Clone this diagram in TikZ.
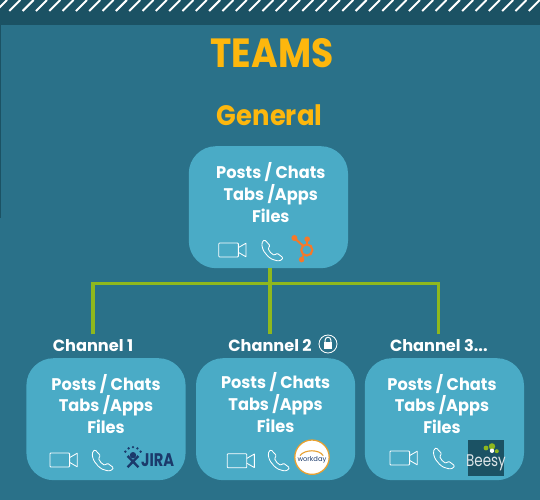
\documentclass[tikz,border=0pt]{standalone}
\usepackage{fontspec}
\setmainfont{Poppins}
\usetikzlibrary{arrows.meta,positioning,calc}
\definecolor{bandcol}{HTML}{1B5264}
\definecolor{bgcol}{HTML}{2A7189}
\definecolor{boxcol}{HTML}{4AABC6}
\definecolor{wirecol}{HTML}{8FB81E}
\definecolor{titlecol}{HTML}{FDB70D}
\definecolor{hubcol}{HTML}{F5792A}
\definecolor{jiracol}{HTML}{1B3A6B}
\definecolor{daycol}{HTML}{E8A030}
\tikzset{
    teambox/.style={fill=boxcol, rounded corners=0.68cm, minimum width=3.98cm, minimum height=3.05cm, inner sep=0pt},
    teamtxt/.style={align=center, text=white, font=\fontsize{12}{15.6}\selectfont\bfseries, inner sep=0pt, xscale=0.96},
    chlbl/.style={anchor=base, text=white, font=\fontsize{11.5}{14}\selectfont\bfseries, inner sep=0pt, text height=0.425cm},
    wire/.style={draw=wirecol, line width=2.2pt},
    icon/.style={draw=white, line width=0.6pt, line join=round},
    pics/camicon/.style={code={
        \draw[icon, rounded corners=0.6pt] (0,-0.175) rectangle (0.49,0.175);
        \draw[icon] (0.49,-0.06) -- (0.68,-0.17) -- (0.68,0.17) -- (0.49,0.06);
    }},
    pics/phoneicon/.style={code={
        \draw[icon, rounded corners=0.8pt, x=0.025cm, y=-0.025cm] (3,0.5) .. controls (1,2) and (0,4) .. (0.5,7)
            .. controls (2,14) and (9,21) .. (16,21.5) .. controls (18,21.7) and (20,21) .. (21.5,18.5)
            -- (15.5,14) -- (13,16) .. controls (10,15) and (7.5,12) .. (6.5,9) -- (8.5,6.5) -- cycle;
    }}
}
\begin{document}
\begin{tikzpicture}
\useasboundingbox (0,0) rectangle (13.5,-12.5);
% background and top band
\fill[bgcol] (0,0) rectangle (13.5,-12.5);
\fill[bandcol] (0,0) rectangle (13.5,-0.625);
\fill[bandcol] (0,-0.625) rectangle (0.03,-5.45);
\foreach \i in {0,...,41}
    \draw[white, line width=1.4pt] ({\i*0.333-0.1},-0.275) -- ({\i*0.333+0.175},0);

\node[text=titlecol, font=\fontsize{29}{30}\selectfont\bfseries, inner sep=0pt, xscale=0.885] (title) at (6.8,-1.32) {TEAMS};
\node[text=titlecol, font=\fontsize{20}{22}\selectfont\bfseries, inner sep=0pt, xscale=0.92] (general) at (6.74,-2.88) {General};

% boxes
\node[teambox] (mainbox) at (6.71,-5.18) {};
\node[teambox] (chonebox) at (2.65,-10.48) {};
\node[teambox] (chtwobox) at (6.89,-10.48) {};
\node[teambox] (chthreebox) at (11.11,-10.48) {};

\node[teamtxt] (maintxt) at (6.77,-4.82) {Posts / Chats\\Tabs /Apps\\Files};
\node[teamtxt] (chonetxt) at (2.65,-10.1) {Posts / Chats\\Tabs /Apps\\Files};
\node[teamtxt] (chtwotxt) at (6.89,-10.07) {Posts / Chats\\Tabs /Apps\\Files};
\node[teamtxt] (chthreetxt) at (11.05,-10.1) {Posts / Chats\\Tabs /Apps\\Files};

% channel labels
\node[chlbl] (chonelbl) at (2.325,-8.79) {Channel 1};
\node[chlbl] (chtwolbl) at (6.75,-8.79) {Channel 2};
\node[chlbl] (chthreelbl) at (10.97,-8.79) {Channel 3...};

% wires
\coordinate (hub) at (6.75,-7.08);
\draw[wire] (mainbox.south -| hub) -- (chtwolbl.north);
\draw[wire] (chonelbl.north) |- (hub) -| (chthreelbl.north);

% lock
\node[draw=white, circle, line width=0.6pt, minimum size=0.45cm, inner sep=0pt] (lock) at (8.2,-8.6) {};
\fill[white] (8.09,-8.72) rectangle (8.31,-8.56);
\draw[white, line width=0.7pt] (8.13,-8.56) -- (8.13,-8.5) arc (180:0:0.07) -- (8.27,-8.56);

% call icons
\pic at (5.47,-6.25) {camicon};
\pic at (6.54,-5.98) {phoneicon};
\pic at (1.25,-11.5) {camicon};
\pic at (2.3,-11.23) {phoneicon};
\pic at (5.68,-11.52) {camicon};
\pic at (6.7,-11.23) {phoneicon};
\pic at (9.75,-11.45) {camicon};
\pic at (10.83,-11.18) {phoneicon};

% hubspot
\draw[hubcol, line width=1.5pt] (7.67,-6.25) circle (0.14);
\draw[hubcol, line width=1.5pt] (7.57,-6.14) -- (7.37,-5.96);
\draw[hubcol, line width=1.2pt] (7.68,-6.11) -- (7.68,-5.98);
\draw[hubcol, line width=1.2pt] (7.6,-6.37) -- (7.54,-6.47);
\fill[hubcol] (7.36,-5.95) circle (0.075) (7.68,-5.98) circle (0.07) (7.54,-6.49) circle (0.07);

% jira
\node[text=jiracol, font=\fontsize{13}{14}\selectfont\bfseries, inner sep=0pt, xscale=0.8] (jira) at (3.94,-11.5) {JIRA};
\draw[jiracol, line width=1.7pt] (3.19,-11.4) -- (3.46,-11.68) (3.46,-11.4) -- (3.19,-11.68);
\fill[jiracol] (3.325,-11.38) circle (0.08);
\foreach \a in {30,60,90,120,150}
    \fill[jiracol] ($(3.325,-11.4)+(\a:0.22)$) circle (0.032);

% workday
\node[draw=daycol, fill=white, circle, line width=0.9pt, minimum size=0.86cm, inner sep=0pt] (workday) at (7.8,-11.43) {};
\node[text=jiracol, font=\fontsize{4.8}{6}\selectfont, inner sep=0pt] (workdaytxt) at (7.8,-11.5) {workday};
\draw[daycol, line width=0.8pt] (7.5,-11.39) .. controls (7.62,-11.23) and (7.98,-11.23) .. (8.08,-11.39);

% beesy
\node[fill=bandcol, minimum size=0.9cm, inner sep=0pt] (beesy) at (12.15,-11.44) {};
\node[text=white!85!bandcol, font=\fontsize{12}{13}\selectfont, inner sep=0pt, xscale=0.8] (beesytxt) at (12.15,-11.57) {Beesy};
\fill[wirecol] (12.15,-11.2) circle (0.06) (12.3,-11.16) circle (0.08) (12.42,-11.28) circle (0.05);
\fill[white] (12.3,-11.27) circle (0.055);
\end{tikzpicture}
\end{document}
